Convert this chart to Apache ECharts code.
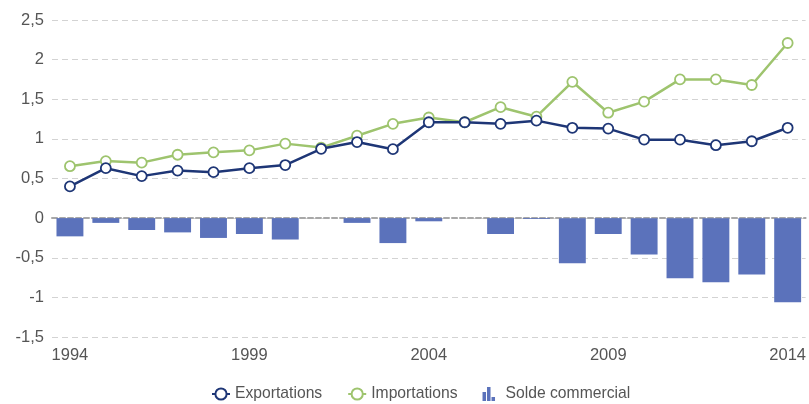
<!DOCTYPE html>
<html>
<head>
<meta charset="utf-8">
<script src="https://cdn.jsdelivr.net/npm/echarts@6/dist/echarts.min.js"></script>
<style>html,body{margin:0;padding:0;background:#fff}#c{width:809px;height:404px}</style>
</head>
<body>
<div id="c"></div>
<script>
var years = ['1994','1995','1996','1997','1998','1999','2000','2001','2002','2003','2004','2005','2006','2007','2008','2009','2010','2011','2012','2013','2014'];
var exportations = [0.40,0.63,0.53,0.60,0.58,0.63,0.67,0.875,0.96,0.87,1.21,1.21,1.19,1.23,1.14,1.13,0.99,0.99,0.92,0.97,1.14];
var importations = [0.655,0.72,0.70,0.80,0.83,0.855,0.94,0.89,1.04,1.19,1.27,1.21,1.40,1.28,1.72,1.33,1.47,1.75,1.75,1.68,2.21];
var solde = [-0.23,-0.06,-0.15,-0.18,-0.25,-0.20,-0.27,0,-0.06,-0.315,-0.04,0,-0.20,-0.01,-0.57,-0.20,-0.46,-0.76,-0.81,-0.71,-1.06];

var chart = echarts.init(document.getElementById('c'));
var font = 'Liberation Sans, Arial, sans-serif';
chart.setOption({
  animation: false,
  textStyle: {fontFamily: font},
  grid: {left: 52, right: 3, top: 20, bottom: 67},
  legend: {
    top: 381,
    left: 206,
    itemGap: 25,
    itemWidth: 18,
    itemHeight: 14,
    textStyle: {fontSize: 15.7, color: '#555', fontFamily: font},
    data: [
      {name: 'Exportations'},
      {name: 'Importations'},
      {name: 'Solde commercial', icon: 'path://M0,5 H3.5 V14 H0 Z M4.5,0 H8 V14 H4.5 Z M9,10 H12.5 V14 H9 Z M18,14 L18,14 Z'}
    ]
  },
  xAxis: {
    type: 'category',
    data: years,
    axisLine: {show: true, onZero: true, lineStyle: {color: '#a8a8a8', width: 2, type: [5, 3]}},
    axisTick: {show: false},
    axisLabel: {
      interval: 4, color: '#555', fontSize: 16.5, margin: 10, fontFamily: font
    },
    splitLine: {show: false}
  },
  yAxis: {
    type: 'value',
    min: -1.5, max: 2.5, interval: 0.5,
    axisLine: {show: false},
    axisTick: {show: false},
    axisLabel: {
      color: '#555', fontSize: 16.5, margin: 8, fontFamily: font,
      formatter: function (v) { return String(v).replace('.', ','); }
    },
    splitLine: {lineStyle: {color: '#d3d3d3', type: [6, 4], width: 1}}
  },
  series: [
    {
      name: 'Solde commercial', type: 'bar', data: solde, barWidth: '75%', z: 1,
      itemStyle: {color: '#5b72bb'}
    },
    {
      name: 'Exportations', type: 'line', data: exportations, z: 3,
      symbol: 'circle', symbolSize: 10,
      lineStyle: {color: '#1e3676', width: 2.5},
      itemStyle: {color: '#ffffff', borderColor: '#1e3676', borderWidth: 1.8}
    },
    {
      name: 'Importations', type: 'line', data: importations, z: 2,
      symbol: 'circle', symbolSize: 10,
      lineStyle: {color: '#9ec46e', width: 2.5},
      itemStyle: {color: '#ffffff', borderColor: '#9ec46e', borderWidth: 1.8}
    }
  ]
});
</script>
</body>
</html>
